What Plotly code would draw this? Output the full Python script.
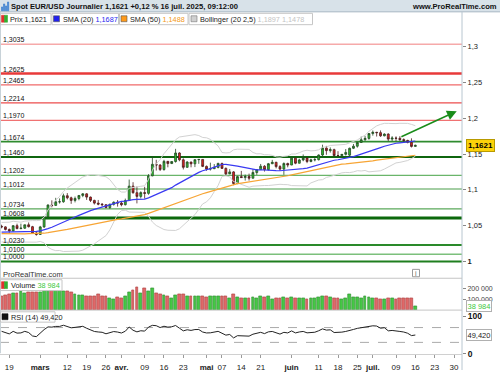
import numpy as np
import pandas as pd
import plotly.graph_objects as go

# ---------------- data ----------------
# closes before the visible window (Dec 2 2024 .. Feb 14 2025), only used to warm up the indicators
WARMUP_CLOSE = [1.0497, 1.0510, 1.0512, 1.0586, 1.0567, 1.0554, 1.0527, 1.0498, 1.0467, 1.0503,
                1.0512, 1.0491, 1.0353, 1.0363, 1.0430, 1.0406, 1.0405, 1.0403, 1.0422, 1.0428,
                1.0408, 1.0354, 1.0350, 1.0265, 1.0309, 1.0390, 1.0342, 1.0320, 1.0300, 1.0244,
                1.0245, 1.0307, 1.0291, 1.0300, 1.0272, 1.0417, 1.0430, 1.0408, 1.0413, 1.0496,
                1.0493, 1.0431, 1.0422, 1.0391, 1.0362, 1.0343, 1.0379, 1.0404, 1.0381, 1.0329,
                1.0307, 1.0362, 1.0384, 1.0465, 1.0493]

START_DATE = "2025-02-17"

OPEN = [1.0490, 1.0483, 1.0447, 1.0426, 1.0500, 1.0459, 1.0465, 1.0512, 1.0486, 1.0398,
        1.0377, 1.0483, 1.0625, 1.0789, 1.0783, 1.0833, 1.0834, 1.0918, 1.0889, 1.0853,
        1.0880, 1.0922, 1.0944, 1.0899, 1.0853, 1.0815, 1.0801, 1.0793, 1.0753, 1.0798,
        1.0828, 1.0816, 1.0793, 1.0851, 1.1052, 1.0960, 1.0909, 1.0962, 1.0951, 1.1196,
        1.1357, 1.1346, 1.1284, 1.1398, 1.1368, 1.1396, 1.1515, 1.1420, 1.1315, 1.1389,
        1.1364, 1.1422, 1.1425, 1.1328, 1.1290, 1.1296, 1.1314, 1.1369, 1.1300, 1.1223,
        1.1251, 1.1088, 1.1185, 1.1172, 1.1187, 1.1163, 1.1243, 1.1283, 1.1330, 1.1282,
        1.1365, 1.1385, 1.1325, 1.1290, 1.1368, 1.1347, 1.1443, 1.1372, 1.1418, 1.1444,
        1.1396, 1.1420, 1.1422, 1.1487, 1.1584, 1.1548, 1.1562, 1.1480, 1.1478, 1.1496,
        1.1485, 1.1581, 1.1610, 1.1662, 1.1700, 1.1719, 1.1787, 1.1804, 1.1799, 1.1755,
        1.1779, 1.1709, 1.1724, 1.1720, 1.1702, 1.1690, 1.1664, 1.1607]
HIGH = [1.0513, 1.0492, 1.0460, 1.0505, 1.0528, 1.0528, 1.0513, 1.0545, 1.0497, 1.0420,
        1.0497, 1.0628, 1.0796, 1.0854, 1.0889, 1.0880, 1.0947, 1.0955, 1.0905, 1.0907,
        1.0928, 1.0955, 1.0952, 1.0906, 1.0862, 1.0859, 1.0815, 1.0797, 1.0809, 1.0838,
        1.0858, 1.0832, 1.0878, 1.1144, 1.1107, 1.1048, 1.0980, 1.1043, 1.1220, 1.1473,
        1.1420, 1.1360, 1.1420, 1.1404, 1.1395, 1.1573, 1.1525, 1.1440, 1.1400, 1.1392,
        1.1425, 1.1430, 1.1425, 1.1340, 1.1380, 1.1360, 1.1380, 1.1380, 1.1313, 1.1290,
        1.1262, 1.1196, 1.1265, 1.1214, 1.1227, 1.1288, 1.1290, 1.1362, 1.1345, 1.1376,
        1.1419, 1.1392, 1.1345, 1.1384, 1.1380, 1.1455, 1.1450, 1.1435, 1.1495, 1.1460,
        1.1435, 1.1450, 1.1495, 1.1631, 1.1614, 1.1593, 1.1575, 1.1540, 1.1500, 1.1570,
        1.1590, 1.1641, 1.1668, 1.1744, 1.1754, 1.1790, 1.1829, 1.1810, 1.1830, 1.1790,
        1.1790, 1.1750, 1.1747, 1.1750, 1.1720, 1.1700, 1.1720, 1.1632]
LOW = [1.0463, 1.0434, 1.0401, 1.0418, 1.0450, 1.0450, 1.0455, 1.0475, 1.0394, 1.0360,
       1.0370, 1.0468, 1.0622, 1.0756, 1.0777, 1.0808, 1.0820, 1.0867, 1.0805, 1.0825,
       1.0855, 1.0898, 1.0860, 1.0830, 1.0796, 1.0785, 1.0769, 1.0744, 1.0733, 1.0780,
       1.0766, 1.0770, 1.0782, 1.0850, 1.0947, 1.0811, 1.0880, 1.0878, 1.0932, 1.1190,
       1.1270, 1.1263, 1.1268, 1.1315, 1.1360, 1.1380, 1.1400, 1.1285, 1.1309, 1.1315,
       1.1318, 1.1364, 1.1318, 1.1266, 1.1270, 1.1290, 1.1300, 1.1292, 1.1200, 1.1220,
       1.1065, 1.1080, 1.1170, 1.1130, 1.1130, 1.1160, 1.1210, 1.1278, 1.1256, 1.1270,
       1.1360, 1.1300, 1.1265, 1.1210, 1.1315, 1.1345, 1.1358, 1.1370, 1.1400, 1.1373,
       1.1385, 1.1398, 1.1410, 1.1465, 1.1490, 1.1520, 1.1466, 1.1465, 1.1447, 1.1480,
       1.1451, 1.1570, 1.1590, 1.1658, 1.1686, 1.1700, 1.1757, 1.1745, 1.1740, 1.1748,
       1.1680, 1.1680, 1.1680, 1.1683, 1.1655, 1.1650, 1.1592, 1.1602]
CLOSE = [1.0483, 1.0447, 1.0426, 1.0500, 1.0459, 1.0465, 1.0512, 1.0486, 1.0398, 1.0377,
         1.0483, 1.0625, 1.0789, 1.0783, 1.0833, 1.0834, 1.0918, 1.0889, 1.0853, 1.0880,
         1.0922, 1.0944, 1.0899, 1.0853, 1.0815, 1.0801, 1.0793, 1.0753, 1.0798, 1.0828,
         1.0816, 1.0793, 1.0851, 1.1052, 1.0960, 1.0909, 1.0962, 1.0951, 1.1196, 1.1357,
         1.1346, 1.1284, 1.1398, 1.1368, 1.1396, 1.1515, 1.1420, 1.1315, 1.1389, 1.1364,
         1.1422, 1.1425, 1.1328, 1.1290, 1.1296, 1.1314, 1.1369, 1.1300, 1.1223, 1.1251,
         1.1088, 1.1185, 1.1172, 1.1187, 1.1163, 1.1243, 1.1283, 1.1330, 1.1282, 1.1365,
         1.1385, 1.1325, 1.1290, 1.1368, 1.1347, 1.1443, 1.1372, 1.1418, 1.1444, 1.1396,
         1.1420, 1.1422, 1.1487, 1.1584, 1.1548, 1.1562, 1.1480, 1.1478, 1.1496, 1.1523,
         1.1581, 1.1610, 1.1662, 1.1700, 1.1719, 1.1787, 1.1804, 1.1799, 1.1755, 1.1779,
         1.1709, 1.1724, 1.1720, 1.1702, 1.1690, 1.1664, 1.1607, 1.1621]
VOLUME_K = [124, 136, 145, 155, 155, 173, 158, 167, 167, 167, 167, 185, 185, 191, 185, 185,
            173, 173, 167, 145, 139, 139, 130, 130, 124, 145, 130, 124, 106, 100, 118, 106,
            124, 161, 179, 215, 155, 200, 173, 200, 155, 142, 136, 130, 106, 136, 148, 142,
            130, 124, 124, 130, 130, 118, 124, 124, 124, 124, 124, 106, 148, 118, 112, 112,
            112, 115, 109, 130, 115, 124, 100, 109, 112, 115, 109, 121, 106, 112, 112, 100,
            109, 109, 118, 130, 127, 121, 109, 112, 103, 106, 142, 121, 115, 109, 124, 118,
            109, 106, 100, 100, 109, 106, 100, 109, 109, 106, 109, 38.984]

LEVELS = [1.3035, 1.2625, 1.2465, 1.2214, 1.1970, 1.1674, 1.1460,
          1.1202, 1.1012, 1.0734, 1.0608, 1.0230, 1.0100, 1.0000]
LEVEL_TEXT = ["1,3035", "1,2625", "1,2465", "1,2214", "1,1970", "1,1674", "1,1460",
              "1,1202", "1,1012", "1,0734", "1,0608", "1,0230", "1,0100", "1,0000"]

PRICE_TICKS = [1.0, 1.05, 1.1, 1.15, 1.2, 1.25, 1.3]
PRICE_TICK_TEXT = ["<b>1</b>", "1,05", "1,1", "1,15", "1,2", "1,25", "1,3"]
VOL_TICKS = [100000, 200000]
VOL_TICK_TEXT = ["100 000", "200 000"]
RSI_TICKS = [0, 100]
RSI_TICK_TEXT = ["<b>0</b>", "<b>100</b>"]
RSI_BANDS = [30, 70]

DATE_TICKS = ["2025-02-19", "2025-03-03", "2025-03-12", "2025-03-19", "2025-03-26", "2025-04-01",
              "2025-04-09", "2025-04-16", "2025-04-23", "2025-05-01", "2025-05-07", "2025-05-14",
              "2025-05-21", "2025-06-02", "2025-06-11", "2025-06-18", "2025-06-25", "2025-07-01",
              "2025-07-09", "2025-07-16", "2025-07-23", "2025-07-30"]
DATE_TICK_TEXT = ["19", "<b>mars</b>", "12", "19", "26", "<b>avr.</b>", "09", "16", "23", "<b>mai</b>",
                  "07", "14", "21", "<b>juin</b>", "11", "18", "25", "<b>juil.</b>", "09", "16", "23", "30"]

# trend arrow drawn by the user (trading-day index, price)
TREND_X = [103, 117.7]
TREND_Y = [1.1732, 1.2099]

# ---------------- styles ----------------
LEVEL_STYLE = {
    1.3035: ("#f6aaaa", 1.5), 1.2625: ("#e83a3a", 2.5), 1.2465: ("#f06a6a", 1.2),
    1.2214: ("#ec4c4c", 1.2), 1.1970: ("#f07272", 1.2), 1.1674: ("#2e8b2e", 1.6),
    1.1460: ("#0f650f", 2.0), 1.1202: ("#6ab56a", 1.2), 1.1012: ("#4a9e4a", 1.2),
    1.0734: ("#5aa85a", 1.2), 1.0608: ("#0b680b", 3.0), 1.0230: ("#2a8a2a", 2.0),
    1.0100: ("#7cc07c", 1.5), 1.0000: ("#1f7f1f", 2.0),
}
FONT = "Liberation Sans, Arial, sans-serif"
W, H = 500, 375
AXIS_X = 462


def PX(x):
    return x / W


def PY(y):
    return 1 - y / H


# ---------------- indicators ----------------
n = len(CLOSE)
xs = np.arange(n)
full = pd.Series(WARMUP_CLOSE + CLOSE)
sma20 = full.rolling(20).mean()
sma50 = full.rolling(50).mean()
sd20 = full.rolling(20).std(ddof=0)
bb_up = sma20 + 2.5 * sd20
bb_lo = sma20 - 2.5 * sd20
delta = full.diff()
gain = delta.clip(lower=0).ewm(alpha=1 / 14, adjust=False).mean()
loss = (-delta.clip(upper=0)).ewm(alpha=1 / 14, adjust=False).mean()
rsi = 100 - 100 / (1 + gain / loss)
k = len(WARMUP_CLOSE)
sma20, sma50, bb_up, bb_lo, rsi = [s.iloc[k:].to_numpy() for s in (sma20, sma50, bb_up, bb_lo, rsi)]

ext_dates = pd.bdate_range(START_DATE, "2025-08-08")
pos = {d.strftime("%Y-%m-%d"): i for i, d in enumerate(ext_dates)}
tickvals = [pos[d] for d in DATE_TICKS]

up = [c >= o for o, c in zip(OPEN, CLOSE)]
vol = [v * 1000 for v in VOLUME_K]

# ---------------- figure ----------------
fig = go.Figure()

fig.add_trace(go.Scatter(x=xs, y=bb_up, mode="lines", line=dict(color="#d2d2d2", width=1),
                         hoverinfo="skip"))
fig.add_trace(go.Scatter(x=xs, y=bb_lo, mode="lines", line=dict(color="#d2d2d2", width=1),
                         hoverinfo="skip"))
fig.add_trace(go.Scatter(x=xs, y=sma50, mode="lines", line=dict(color="#f7a535", width=1.2)))
fig.add_trace(go.Scatter(x=xs, y=sma20, mode="lines", line=dict(color="#3a3af2", width=1.2)))
fig.add_trace(go.Candlestick(
    x=xs, open=OPEN, high=HIGH, low=LOW, close=CLOSE,
    increasing=dict(fillcolor="#2fbf2f", line=dict(color="#244a24", width=0.8)),
    decreasing=dict(fillcolor="#e02222", line=dict(color="#4a2020", width=0.8)),
    whiskerwidth=0))

fig.add_trace(go.Bar(
    x=xs, y=vol, yaxis="y2", width=0.72,
    marker=dict(color=["#45c845" if u else "#e06868" for u in up],
                line=dict(color=["#2a8a2a" if u else "#a83a3a" for u in up], width=0.6))))

fig.add_trace(go.Scatter(x=xs, y=rsi, yaxis="y3", mode="lines",
                         line=dict(color="#222222", width=1)))

shapes = []
# header band
shapes.append(dict(type="rect", xref="paper", yref="paper", x0=0, x1=1, y0=PY(12), y1=1,
                   fillcolor="#d8e2e9", line=dict(width=0), layer="below"))
shapes.append(dict(type="line", xref="paper", yref="paper", x0=0, x1=1, y0=PY(12), y1=PY(12),
                   line=dict(color="#a6b6c2", width=1)))
# right axis line
shapes.append(dict(type="line", xref="paper", yref="paper", x0=PX(AXIS_X), x1=PX(AXIS_X),
                   y0=0, y1=PY(12), line=dict(color="#b8c6d0", width=1)))
# panel separators
for yy in (282, 314.3):
    shapes.append(dict(type="line", xref="paper", yref="paper", x0=0, x1=PX(AXIS_X),
                       y0=PY(yy), y1=PY(yy), line=dict(color="#c4c4c4", width=1)))
# left border
shapes.append(dict(type="line", xref="paper", yref="paper", x0=PX(0.5), x1=PX(0.5),
                   y0=PY(358), y1=PY(12), line=dict(color="#c8d2d8", width=1)))
# level lines
for lv in LEVELS:
    col, wid = LEVEL_STYLE[lv]
    shapes.append(dict(type="line", xref="paper", yref="y", x0=0, x1=PX(AXIS_X), y0=lv, y1=lv,
                       line=dict(color=col, width=wid), layer="below"))
# RSI bands
for b in RSI_BANDS:
    shapes.append(dict(type="line", xref="paper", yref="y3", x0=0, x1=PX(AXIS_X), y0=b, y1=b,
                       line=dict(color="#aaaaaa", width=1, dash="dash"), layer="below"))


def box(x0, x1, y0, y1):
    shapes.append(dict(type="rect", xref="paper", yref="paper", x0=PX(x0), x1=PX(x1),
                       y0=PY(y1), y1=PY(y0), fillcolor="white",
                       line=dict(color="#c6c6c6", width=1)))


def rect(x0, x1, y0, y1, color, line=None):
    shapes.append(dict(type="rect", xref="paper", yref="paper", x0=PX(x0), x1=PX(x1),
                       y0=PY(y1), y1=PY(y0), fillcolor=color,
                       line=dict(color=line or color, width=0.6)))


# legend boxes
box(0.5, 51, 13.5, 25)
box(52, 118.5, 13.5, 25)
box(119.5, 188, 13.5, 25)
box(189, 312.5, 13.5, 25)
rect(1.5, 4.5, 15.5, 22.5, "#e03030")
rect(4.5, 7.5, 15.5, 22.5, "#30b030")
rect(53.5, 59.5, 16, 22, "#2020ee", "#555555")
rect(121, 127, 16, 22, "#ff9a1a", "#555555")
rect(191, 197, 16, 22, "#d0d0d0", "#777777")
# volume / RSI labels
box(0.5, 62, 283.5, 294.5)
rect(1.5, 4.5, 285.5, 292.5, "#e03030")
rect(4.5, 7.5, 285.5, 292.5, "#30b030")
box(0.5, 55, 316, 326.5)
rect(2, 8, 318, 324, "#111111")
# header icon
for i, hh in enumerate([4, 7, 5, 9]):
    rect(1.5 + i * 2, 2.7 + i * 2, 11 - hh, 11, "#3b7fd0")
# info icon
shapes.append(dict(type="rect", xref="paper", yref="paper", x0=PX(412.5), x1=PX(419.5),
                   y0=PY(280.5), y1=PY(273), fillcolor="white", line=dict(color="#9a9a9a", width=1)))

ann = []


def text(x, y, t, size=7.3, color="#222222", anchor="left", yanchor="middle", **kw):
    ann.append(dict(xref="paper", yref="paper", x=PX(x), y=PY(y), text=t, showarrow=False,
                    xanchor=anchor, yanchor=yanchor, font=dict(family=FONT, size=size, color=color),
                    borderpad=0, **kw))


text(10, 6.5, "<b>Spot EUR/USD Journalier 1,1621 +0,12 % 16 juil. 2025, 09:12:00</b>", size=7.6,
     color="#111111")
text(498, 6.5, "<b>www.ProRealTime.com</b>", size=7.6, color="#111111", anchor="right")
text(9, 19.5, "Prix 1,1621")
text(61.5, 19.5, "SMA (20) <span style='color:#2a2af0'>1,1687</span>")
text(129, 19.5, "SMA (50) <span style='color:#f39a20'>1,1488</span>")
text(199, 19.5, "Bollinger (20 2,5) <span style='color:#c4c4c4'>1,1897 1,1478</span>")
text(2, 278, "ProRealTime.com", size=7.5, color="#333333")
text(416, 277, "i", size=7, color="#666666", anchor="center")
text(10, 289.5, "Volume <span style='color:#3cc83c'>38 984</span>")
text(9.5, 321.5, "RSI (14) 49,420")

for lv, lt in zip(LEVELS, LEVEL_TEXT):
    ann.append(dict(xref="paper", yref="y", x=PX(1.5), y=lv, text=lt, showarrow=False,
                    xanchor="left", yanchor="bottom", yshift=0, borderpad=0,
                    font=dict(family=FONT, size=7, color="#111111")))

# last value boxes on the right axis
ann.append(dict(xref="paper", yref="y", x=PX(465.5), y=CLOSE[-1], text="<b>1,1621</b>",
                showarrow=False, xanchor="left", yanchor="middle", bgcolor="#fcd20a",
                bordercolor="#b89a00", borderwidth=1, borderpad=1,
                font=dict(family=FONT, size=8, color="#000000")))
ann.append(dict(xref="paper", yref="y2", x=PX(465.5), y=vol[-1], text="38 984",
                showarrow=False, xanchor="left", yanchor="middle", bgcolor="white",
                bordercolor="#b0b0b0", borderwidth=1, borderpad=0.5,
                font=dict(family=FONT, size=7.5, color="#3cc83c")))
ann.append(dict(xref="paper", yref="y3", x=PX(465.5), y=float(rsi[-1]), text="49,420",
                showarrow=False, xanchor="left", yanchor="middle", bgcolor="white",
                bordercolor="#b0b0b0", borderwidth=1, borderpad=0.5,
                font=dict(family=FONT, size=7.5, color="#222222")))
# trend arrow
ann.append(dict(xref="x", yref="y", axref="x", ayref="y", x=TREND_X[1], y=TREND_Y[1],
                ax=TREND_X[0], ay=TREND_Y[0], text="", showarrow=True, arrowhead=2,
                arrowsize=1.3, arrowwidth=1.5, arrowcolor="#1a8c1a", standoff=0, startstandoff=0))

# axis geometry: price 1.0 at y=265 px, 1.3 at y=47.3 px
PPU = (265 - 47.3) / 0.3
price_range = [1 + (265 - 282) / PPU, 1 + (265 - 12.5) / PPU]
x_per_day = 3.867
x0_px = 1.57
x_range = [(0 - x0_px) / x_per_day, (AXIS_X - x0_px) / x_per_day]

tickfont = dict(family=FONT, size=7.5, color="#222222")
fig.update_layout(
    width=W, height=H, margin=dict(l=0, r=0, t=0, b=0),
    paper_bgcolor="white", plot_bgcolor="white", showlegend=False,
    shapes=shapes, annotations=ann, bargap=0,
    xaxis=dict(domain=[0, PX(AXIS_X)], range=x_range, anchor="y3", tickvals=tickvals,
               ticktext=DATE_TICK_TEXT, ticks="outside", ticklen=3, tickcolor="#9a9a9a",
               tickfont=dict(family=FONT, size=8, color="#222222"), showgrid=False,
               zeroline=False, showline=True, linecolor="#d0d0d0", rangeslider=dict(visible=False),
               ticklabelstandoff=3, fixedrange=True),
    yaxis=dict(domain=[PY(282), PY(12.5)], range=price_range, side="right", anchor="x",
               tickvals=PRICE_TICKS, ticktext=PRICE_TICK_TEXT, ticks="outside", ticklen=3,
               tickcolor="#888888", tickfont=tickfont, showgrid=False, zeroline=False),
    yaxis2=dict(domain=[PY(314.3), PY(282)], range=[0, (314.3 - 282) / 11 * 100000], side="right",
                anchor="x", tickvals=VOL_TICKS, ticktext=VOL_TICK_TEXT, ticks="outside", ticklen=3,
                tickcolor="#888888", tickfont=dict(family=FONT, size=7, color="#444444"),
                showgrid=False, zeroline=False),
    yaxis3=dict(domain=[PY(358.3), PY(314.3)], range=[0, 117], side="right", anchor="x",
                tickvals=RSI_TICKS, ticktext=RSI_TICK_TEXT, ticks="outside", ticklen=3,
                tickcolor="#888888", tickfont=dict(family=FONT, size=8.5, color="#111111"),
                showgrid=False, zeroline=False),
)

fig.write_html("out.html", config={"displayModeBar": False},
               post_script="document.body.style.margin='0';document.body.style.overflow='hidden';")
